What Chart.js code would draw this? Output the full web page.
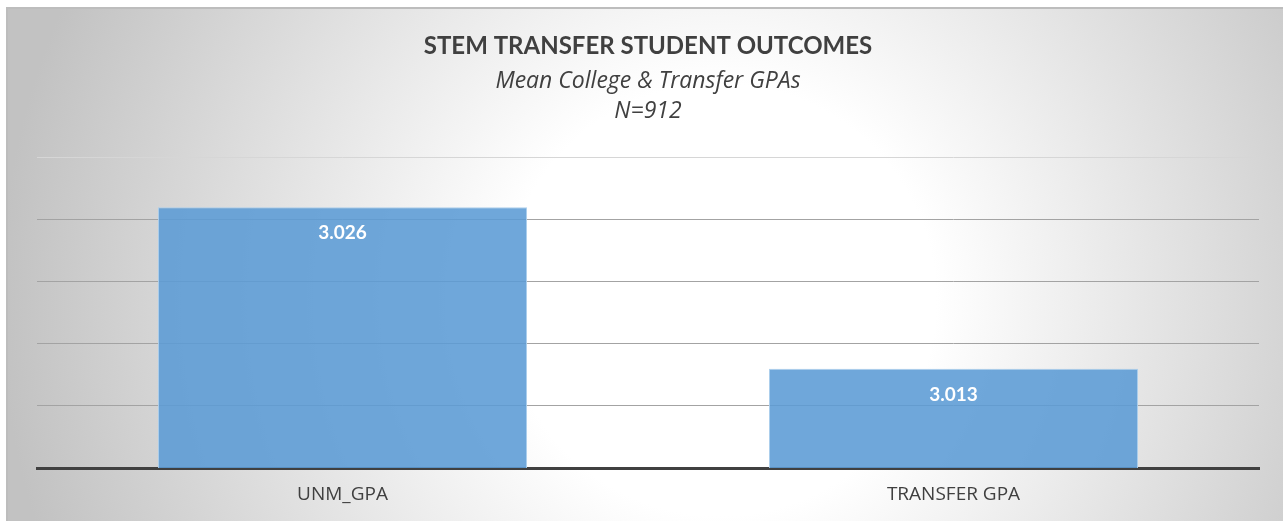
<!DOCTYPE html>
<html>
<head>
<meta charset="utf-8">
<script src="https://cdn.jsdelivr.net/npm/chart.js@4/dist/chart.umd.min.js"></script>
<style>
  html, body { margin: 0; padding: 0; background: #fff; }
  #wrap { width: 1287px; height: 521px; }
</style>
</head>
<body>
<div id="wrap"><canvas id="myChart" width="1287" height="521"></canvas></div>
<script>
const categories = ['UNM_GPA', 'TRANSFER GPA'];
const gpaValues = [3.026, 3.013];
const valueLabels = ['3.026', '3.013'];
const axisMin = 3.005;
const axisMax = 3.03;
const axisStep = 0.005;

const fontFamily = "Lato, 'Open Sans', sans-serif";
const fontFamily2 = "'Open Sans', Lato, sans-serif";

// gray panel with a soft radial light in the middle
const panelBackground = {
  id: 'panelBackground',
  beforeDraw(chart) {
    const ctx = chart.ctx;
    ctx.save();
    ctx.fillStyle = '#ffffff';
    ctx.fillRect(0, 0, chart.width, chart.height);
    const grad = ctx.createRadialGradient(720, 300, 0, 720, 300, 720);
    grad.addColorStop(0, '#ffffff');
    grad.addColorStop(0.3, '#ffffff');
    grad.addColorStop(1, '#c2c2c2');
    ctx.fillStyle = grad;
    ctx.fillRect(6, 7, 1277, 514);
    ctx.strokeStyle = '#bdbdbd';
    ctx.lineWidth = 2;
    ctx.beginPath();
    ctx.moveTo(7, 521);
    ctx.lineTo(7, 8);
    ctx.lineTo(1283, 8);
    ctx.stroke();
    ctx.restore();
  }
};

const valueLabelPlugin = {
  id: 'valueLabelPlugin',
  afterDatasetsDraw(chart) {
    const ctx = chart.ctx;
    const meta = chart.getDatasetMeta(0);
    ctx.save();
    ctx.fillStyle = '#ffffff';
    ctx.font = "bold 19px " + fontFamily;
    ctx.textAlign = 'center';
    ctx.textBaseline = 'middle';
    meta.data.forEach((bar, i) => {
      ctx.fillText(valueLabels[i], bar.x, bar.y + 26);
    });
    ctx.restore();
  }
};

const chart = new Chart(document.getElementById('myChart'), {
  type: 'bar',
  data: {
    labels: categories,
    datasets: [
      {
        label: 'Mean GPA',
        data: gpaValues,
        backgroundColor: 'rgba(91, 155, 213, 0.88)',
        borderColor: 'rgba(170, 205, 236, 0.95)',
        borderWidth: 1,
        categoryPercentage: 1,
        barPercentage: 0.604,
      },
    ],
  },
  options: {
    responsive: false,
    animation: false,
    layout: {
      padding: { left: 37, right: 28, top: 0, bottom: 0 }
    },
    plugins: {
      legend: { display: false },
      tooltip: { enabled: false },
      title: {
        display: true,
        text: 'STEM TRANSFER STUDENT OUTCOMES',
        color: '#404040',
        font: { family: fontFamily, size: 24, weight: 'bold', lineHeight: 1.2 },
        padding: { top: 32, bottom: 6 }
      },
      subtitle: {
        display: true,
        text: ['Mean College & Transfer GPAs', 'N=912'],
        color: '#404040',
        font: { family: fontFamily2, size: 23, style: 'italic', lineHeight: 1.3 },
        padding: { top: 0, bottom: 31 }
      }
    },
    scales: {
      x: {
        grid: { display: false, drawTicks: false },
        border: { display: true, color: '#404040', width: 3 },
        ticks: {
          color: '#404040',
          padding: 17,
          font: { family: fontFamily2, size: 19, lineHeight: 1 }
        }
      },
      y: {
        min: axisMin,
        max: axisMax,
        ticks: { display: false, stepSize: axisStep },
        border: { display: false },
        grid: {
          drawTicks: false,
          lineWidth: 1,
          color: (c) => c.tick && c.tick.value >= axisMax - 1e-9 ? '#d6d6d6' : '#a3a3a3'
        }
      }
    }
  },
  plugins: [panelBackground, valueLabelPlugin]
});
</script>
</body>
</html>
